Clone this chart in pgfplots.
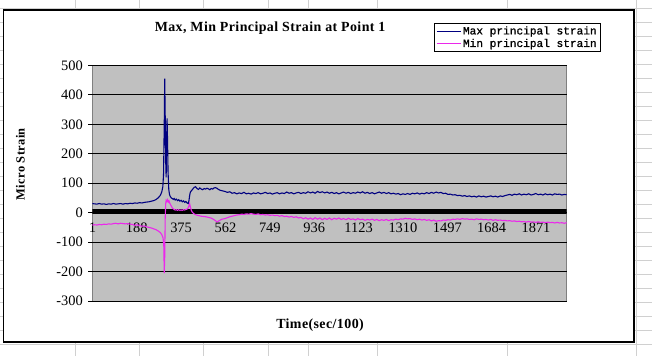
\documentclass[border=0pt]{standalone}
\usepackage{pgfplots}
\pgfplotsset{compat=1.18}
\usepackage{fontspec}
\setmainfont{Liberation Serif}
\newfontfamily\monofont[FakeBold=1]{Liberation Mono}
\newfontfamily\titlefont[LetterSpace=3]{Liberation Serif Bold}
\definecolor{navyser}{RGB}{0,0,128}
\definecolor{magser}{RGB}{235,40,235}
\definecolor{plotgray}{RGB}{192,192,192}
\definecolor{plotborder}{RGB}{128,128,128}
\definecolor{cellline}{RGB}{208,208,208}

\pgfplotstableread{
x y
1 31
10 30
20 29
30 31
40 29
50 30
60 28
70 30
80 29
90 31
100 29
110 30
120 31
130 29
140 31
150 30
160 32
170 31
180 33
190 32
200 34
210 33
220 35
230 36
240 37
250 39
260 41
270 45
278 50
285 56
290 63
294 72
298 88
301 130
304 300
306 455
308 330
310 180
312 120
314 250
316 320
318 240
320 140
323 80
326 62
330 54
334 50
338 48
342 45
346 48
350 43
355 46
360 41
365 44
370 39
375 42
380 37
385 40
390 35
395 38
400 33
405 31
408 40
411 58
414 70
418 74
424 80
430 86
436 88
442 82
448 79
454 84
460 80
466 78
472 82
478 80
484 83
490 81
496 78
502 82
508 80
514 84
520 85
526 83
532 79
540 76
550 74
560 72
570 69
580 71
590 66
600 68
610 64
620 67
630 65
640 69
650 64
660 66
670 63
680 67
690 65
700 68
710 64
720 66
730 69
740 65
750 67
760 63
770 66
780 68
790 64
800 67
810 65
820 70
830 66
840 68
850 64
860 67
870 69
880 65
890 68
900 66
910 71
920 67
930 70
940 66
950 72
960 68
970 71
980 67
990 70
1000 66
1010 69
1020 65
1030 68
1040 64
1050 67
1060 70
1070 66
1080 69
1090 65
1100 68
1110 66
1120 70
1130 67
1140 71
1150 66
1160 69
1170 65
1180 68
1190 64
1200 67
1210 70
1220 66
1230 69
1240 65
1250 68
1260 64
1270 66
1280 63
1290 65
1300 61
1310 64
1320 62
1330 65
1340 62
1350 66
1360 64
1370 67
1380 63
1390 66
1400 64
1410 68
1420 65
1430 69
1440 66
1450 70
1460 67
1470 69
1480 65
1490 66
1500 62
1510 63
1520 60
1530 61
1540 58
1550 59
1560 56
1570 58
1580 55
1590 57
1600 54
1610 56
1620 53
1630 57
1640 54
1650 56
1660 53
1670 55
1680 57
1690 54
1700 56
1710 53
1720 57
1730 55
1740 58
1750 60
1760 62
1770 59
1780 63
1790 61
1800 64
1810 60
1820 63
1830 61
1840 64
1850 60
1860 62
1870 65
1880 61
1890 63
1900 60
1910 64
1920 61
1930 63
1940 60
1950 64
1960 62
1970 63
1980 60
1990 62
2000 61
}\maxdata

\pgfplotstableread{
x y
1 -42
10 -41
20 -42
30 -40
40 -41
50 -39
60 -40
70 -38
80 -39
90 -37
100 -36
110 -38
120 -36
130 -37
140 -38
150 -37
160 -39
170 -40
180 -43
190 -41
200 -44
210 -46
220 -45
230 -48
240 -50
250 -52
260 -55
270 -58
280 -63
288 -68
294 -75
299 -86
302 -110
304 -205
306 -150
308 -20
310 30
312 42
315 38
318 44
321 36
324 40
327 33
330 28
334 22
338 16
342 13
346 11
350 9
355 10
360 8
365 10
370 8
375 9
380 8
385 10
390 9
395 11
400 12
404 15
408 23
411 31
414 20
418 8
422 2
428 -3
434 -6
440 -8
450 -10
460 -12
470 -13
480 -14
490 -16
500 -18
510 -22
518 -26
524 -30
528 -31
534 -28
540 -25
548 -22
554 -21
560 -20
570 -17
580 -14
590 -12
600 -10
610 -8
620 -7
630 -5
640 -6
650 -4
660 -5
670 -3
680 -5
690 -6
700 -4
710 -7
720 -6
730 -8
740 -7
750 -9
760 -8
770 -10
780 -9
790 -12
800 -10
810 -13
820 -12
830 -15
840 -13
850 -16
860 -14
870 -18
880 -16
890 -21
900 -17
910 -22
920 -18
930 -23
940 -17
950 -22
960 -18
970 -24
980 -19
990 -23
1000 -18
1010 -24
1020 -19
1030 -22
1040 -18
1050 -23
1060 -20
1070 -24
1080 -19
1090 -23
1100 -21
1110 -25
1120 -20
1130 -24
1140 -22
1150 -26
1160 -23
1170 -25
1180 -22
1190 -26
1200 -23
1210 -27
1220 -24
1230 -26
1240 -23
1250 -27
1260 -24
1270 -25
1280 -22
1290 -24
1300 -21
1310 -22
1320 -19
1330 -21
1340 -20
1350 -23
1360 -21
1370 -24
1380 -22
1390 -25
1400 -23
1410 -26
1420 -24
1430 -28
1440 -25
1450 -29
1460 -27
1470 -28
1480 -25
1490 -26
1500 -24
1510 -25
1520 -22
1530 -23
1540 -21
1550 -23
1560 -20
1570 -22
1580 -21
1590 -23
1600 -22
1610 -24
1620 -21
1630 -23
1640 -22
1650 -24
1660 -23
1670 -25
1680 -23
1690 -26
1700 -24
1710 -26
1720 -25
1730 -27
1740 -26
1750 -28
1760 -27
1770 -29
1780 -28
1790 -30
1800 -29
1810 -31
1820 -30
1830 -32
1840 -30
1850 -32
1860 -31
1870 -33
1880 -31
1890 -33
1900 -32
1910 -34
1920 -32
1930 -34
1940 -33
1950 -35
1960 -33
1970 -35
1980 -34
1990 -36
2000 -34
}\mindata

\begin{document}
\begin{tikzpicture}
\begin{scope}[x=1bp,y=1bp]
\fill[white] (0,0) rectangle (652,356);
\foreach \yy in {8.3,22.3,...,345} \draw[cellline, line width=1bp] (0,356-\yy) -- (652,356-\yy);
\foreach \xx in {75.4,139.6,203.7,268,308,378,508,636.7} \draw[cellline, line width=1bp] (\xx,0) -- (\xx,356);
\fill[white] (3,14) rectangle (634.5,346.5);
\draw[black, line width=1.5bp] (3,14) rectangle (634.5,346.5);
\node[font=\titlefont\fontsize{14}{14}\selectfont] at (270,328) {Max, Min Principal Strain at Point 1};
\node[font=\titlefont\fontsize{14}{14}\selectfont] at (320,31) {Time(sec/100)};
\node[font=\titlefont\fontsize{12.5}{12.5}\selectfont, rotate=90] at (20,192) {Micro Strain};
\end{scope}
\begin{axis}[
  at={(92bp,55bp)}, anchor=south west,
  width=475bp, height=236bp, scale only axis,
  xmin=1, xmax=2000, ymin=-300, ymax=500,
  axis x line*=middle, axis y line*=left,
  x axis line style={draw=none}, y axis line style={draw=none},
  axis background/.style={fill=plotgray, draw=plotborder, line width=1bp},
  hide obscured x ticks=false, hide obscured y ticks=false,
  xtick={1,188,375,562,749,936,1123,1310,1497,1684,1871},
  major x tick style={draw=none},
  ytick={-300,-200,...,500},
  ymajorgrids, grid style={black, line width=0.8bp},
  major y tick style={black, line width=0.8bp},
  tick align=outside, major tick length=4bp,
  ticklabel style={font=\fontsize{14.5}{14.5}\selectfont},
  /pgf/number format/assume math mode=true,
  /pgf/number format/set thousands separator={},
  yticklabel style={xshift=-2bp},
  xticklabel style={yshift=-3bp},
  legend style={at={(axis description cs:0.72,1.178)}, anchor=north west,
    draw=black, fill=white, line width=0.8bp,
    font=\monofont\fontsize{11.2}{11.2}\selectfont,
    inner xsep=2bp, inner ysep=0.5bp, row sep=-1bp,
    cells={anchor=west}},
  legend image code/.code={\draw[#1, line width=0.8bp] (0bp,0bp) -- (24bp,0bp);},
]
\addplot[black, line width=5bp, forget plot] coordinates {(1,5.5) (2000,5.5)};
\addplot[navyser, line width=1.1bp] table[x=x,y=y] {\maxdata};
\addlegendentry{Max principal strain}
\addplot[magser, line width=1.1bp] table[x=x,y=y] {\mindata};
\addlegendentry{Min principal strain}
\end{axis}
\end{tikzpicture}
\end{document}
